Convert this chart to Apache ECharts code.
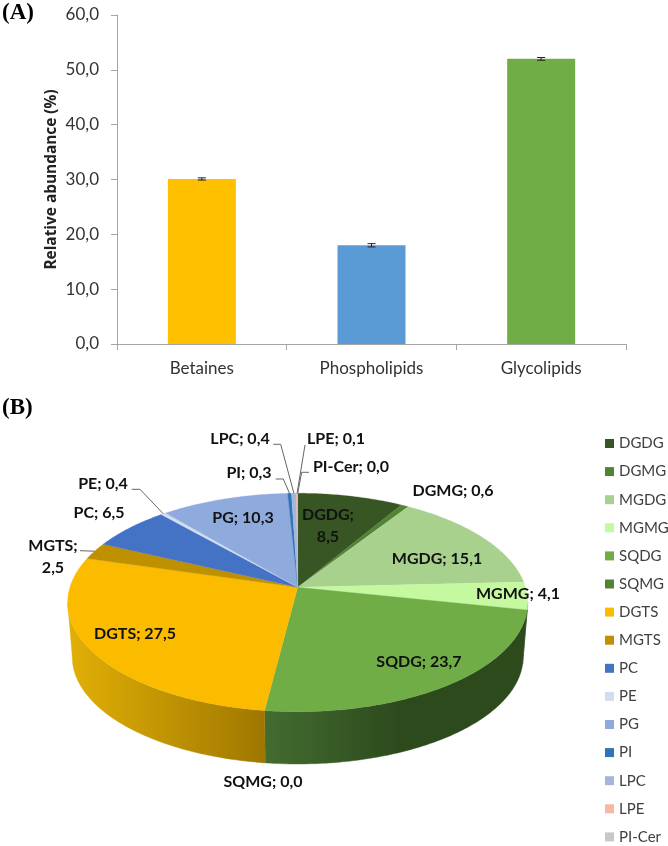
<!DOCTYPE html>
<html><head><meta charset="utf-8">
<style>html,body{margin:0;padding:0;background:#fff}#c{width:668px;height:846px}</style>
<script src="https://cdn.jsdelivr.net/npm/echarts@6/dist/echarts.min.js"></script>
</head><body><div id="c"></div>
<script>
// --- Panel A data ---
const groupNames = ['Betaines','Phospholipids','Glycolipids'];
const groupValues = [30.1,18.0,52.0];
const groupErrors = [0.2,0.3,0.25];
const groupColors = ['#FFC000','#5B9BD5','#70AD47'];
const yTicks = {min:0,max:60,interval:10};
// --- Panel B data ---
const sliceNames = ['DGDG','DGMG','MGDG','MGMG','SQDG','SQMG','DGTS','MGTS','PC','PE','PG','PI','LPC','LPE','PI-Cer'];
const sliceValues = [8.5,0.6,15.1,4.1,23.7,0.0,27.5,2.5,6.5,0.4,10.3,0.3,0.4,0.1,0.0];
const sliceColors = ['#375623','#548235','#A9D18E','#C5F9A0','#70AD47','#548235','#FBBC00','#BF9000','#4472C4','#D2DDF1','#8FAADC','#2E75B6','#A5B5DD','#F4B8A4','#C8C8C8'];

// Layout (not data): perspective ellipse of the 3D pie and label placement
const P = {cx:297.7, cy:587.3, A:227.8, B:107.1, k:0.139, depth:54.8, shrink:0.98};
const labelFont = 'bold 16px Lato';
const labelPlace = {
  'DGDG':{x:328,y:526,two:true}, 'DGMG':{x:453,y:491}, 'MGDG':{x:437,y:559}, 'MGMG':{x:518,y:594},
  'SQDG':{x:419,y:662}, 'SQMG':{x:263,y:782}, 'DGTS':{x:135,y:634}, 'MGTS':{x:53,y:557,two:true},
  'PC':{x:99,y:513}, 'PE':{x:103,y:484}, 'PG':{x:243,y:518}, 'PI':{x:249,y:473},
  'LPC':{x:240,y:439}, 'LPE':{x:336,y:439}, 'PI-Cer':{x:351,y:467}
};
const leaderStart = {
  'LPC':[[273.3,444.3],[280.7,444.3]], 'LPE':[[305,445]], 'PI':[[275.7,479],[283.3,479]],
  'PI-Cer':[[309,472.3],[301.7,472.3]], 'PE':[[131.7,489.3],[140,489.3]], 'MGTS':[[80,550.7]]
};
const wallVisible = [98,262];
const wallShade = {
  'MGMG':{solid:'#3A5C26'},
  'SQDG':{x0:265,x1:400,stops:['#436C30','#2D4A1D']},
  'DGTS':{x0:67,x1:265,stops:['#E2B007','#9F7700']}
};

const total = sliceValues.reduce((a,b)=>a+b,0);
function project(deg,lower){
  const t=deg*Math.PI/180, x=Math.sin(t), y=-Math.cos(t), w=1-P.k*y;
  const X=P.A*x/w, Y=P.B*y/w;
  return lower ? [P.cx+X*P.shrink, P.cy+Y*P.shrink+P.depth] : [P.cx+X, P.cy+Y];
}
function sliceRange(i){
  let s=0; for(let j=0;j<i;j++) s+=sliceValues[j];
  return [s/total*360,(s+sliceValues[i])/total*360];
}
function fmt(v){return v.toFixed(1).replace('.',',');}
function arc(a,b,lower){
  const out=[], n=Math.max(1,Math.ceil((b-a)/0.75));
  for(let i=0;i<=n;i++) out.push(project(a+(b-a)*i/n,lower));
  return out;
}
function renderSlice(params,api){
  const i=params.seriesIndex-sliceSeriesOffset, name=sliceNames[i], value=api.value(0);
  const [a,b]=sliceRange(i), kids=[], col=sliceColors[i];
  if(value>0){
    const wa=Math.max(a,wallVisible[0]), wb=Math.min(b,wallVisible[1]);
    const sh=wallShade[name];
    if(wb>wa && sh){
      const fill = sh.solid || new echarts.graphic.LinearGradient(sh.x0,0,sh.x1,0,[{offset:0,color:sh.stops[0]},{offset:1,color:sh.stops[1]}],true);
      kids.push({type:'polygon',z2:1,shape:{points:arc(wa,wb,false).concat(arc(wa,wb,true).reverse())},
        style:{fill:fill,stroke:fill,lineWidth:0.4}});
    }
    kids.push({type:'polygon',z2:2,shape:{points:[[P.cx,P.cy]].concat(arc(a,b,false))},
      style:{fill:col,stroke:col,lineWidth:0.3}});
  }
  const L=labelPlace[name];
  if(leaderStart[name]){
    const m=project((a+b)/2,false);
    kids.push({type:'polyline',z2:5,shape:{points:leaderStart[name].concat([m])},
      style:{fill:'none',stroke:'#666666',lineWidth:1}});
  }
  kids.push({type:'text',z2:10,style:{
    text: name+';'+(L.two?'\n':' ')+fmt(value), x:L.x, y:L.y, align:'center', verticalAlign:'middle',
    font:labelFont, fill:'#111111', lineHeight:22
  }});
  return {type:'group',children:kids};
}
function renderError(params,api){
  const c=api.value(0), v=api.value(1), e=api.value(2);
  const hi=api.coord([c,v+e]), lo=api.coord([c,v-e]), hw=4;
  const st={stroke:'#222222',lineWidth:1,fill:'none'};
  return {type:'group',children:[
    {type:'line',shape:{x1:hi[0],y1:hi[1],x2:lo[0],y2:lo[1]},style:st},
    {type:'line',shape:{x1:hi[0]-hw,y1:hi[1],x2:hi[0]+hw,y2:hi[1]},style:st},
    {type:'line',shape:{x1:lo[0]-hw,y1:lo[1],x2:lo[0]+hw,y2:lo[1]},style:st}
  ]};
}
const axisGrey='#A6A6A6';
const sliceSeriesOffset=2;
const option={
  animation:false,
  backgroundColor:'#fff',
  graphic:[
    {type:'text',left:2,top:2,style:{text:'(A)',font:'bold 23px "Liberation Serif"',fill:'#000'}},
    {type:'text',left:2,top:397,style:{text:'(B)',font:'bold 23px "Liberation Serif"',fill:'#000'}}
  ],
  grid:{left:117,right:42,top:15,bottom:502},
  xAxis:{type:'category',data:groupNames,
    axisLine:{lineStyle:{color:axisGrey,width:1}},
    axisTick:{show:true,alignWithLabel:false,length:6,lineStyle:{color:axisGrey}},
    axisLabel:{fontFamily:'Lato',fontSize:17,color:'#333',margin:16}},
  yAxis:{type:'value',min:yTicks.min,max:yTicks.max,interval:yTicks.interval,
    name:'Relative abundance (%)',nameLocation:'middle',nameGap:58,nameMoveOverlap:false,
    nameTextStyle:{fontFamily:'Open Sans',fontWeight:'bold',fontSize:15.4,color:'#222'},
    axisLine:{show:true,lineStyle:{color:axisGrey,width:1}},
    axisTick:{show:true,length:6,lineStyle:{color:axisGrey}},
    splitLine:{show:false},
    axisLabel:{fontFamily:'Lato',fontSize:17,color:'#333',margin:18,formatter:v=>fmt(v)}},
  legend:{orient:'vertical',left:605,top:436,padding:0,height:425,itemWidth:9,itemHeight:9,itemGap:13.1,icon:'rect',
    data:sliceNames,selectedMode:false,
    textStyle:{fontFamily:'Lato',fontSize:15,color:'#404040'}},
  series:[
    {type:'bar',name:'Abundance',barWidth:68,silent:true,
     data:groupValues.map((v,i)=>({value:v,itemStyle:{color:groupColors[i]}}))},
    {type:'custom',name:'Error',z:5,silent:true,renderItem:renderError,encode:{x:0,y:1},
     data:groupValues.map((v,i)=>[i,v,groupErrors[i]])}
  ].concat(sliceNames.map((n,i)=>({
    type:'custom',name:n,coordinateSystem:'none',silent:true,
    itemStyle:{color:sliceColors[i]},
    renderItem:renderSlice,data:[[sliceValues[i]]]
  })))
};
const chart=echarts.init(document.getElementById('c'),null,{renderer:'canvas'});
chart.setOption(option);
</script></body></html>
